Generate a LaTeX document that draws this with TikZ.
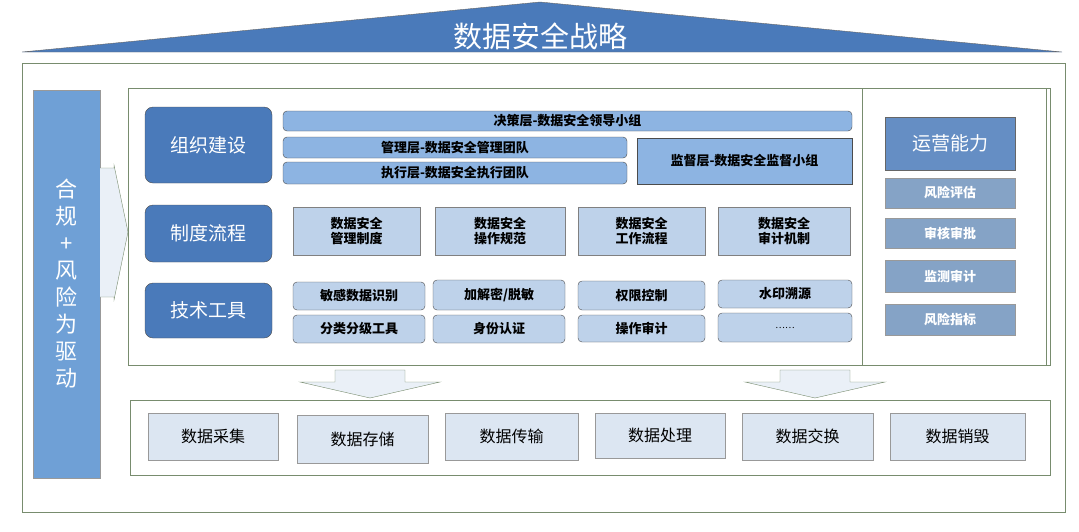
\documentclass[tikz,border=0pt]{standalone}
\usepackage{fontspec}
\setmainfont{Noto Sans CJK SC}
\usepackage{tikz}
\usetikzlibrary{shapes.geometric}
\definecolor{darkblu}{RGB}{74,122,186}
\definecolor{midblu}{RGB}{111,160,214}
\definecolor{barblu}{RGB}{141,180,226}
\definecolor{lightblu}{RGB}{190,210,234}
\definecolor{paleblu}{RGB}{220,230,242}
\definecolor{frame}{RGB}{120,140,110}
\begin{document}
\begin{tikzpicture}[x=1pt,y=-1pt,
  head/.style={draw=black!70, rounded corners=8pt, fill=darkblu, text=white, font=\fontsize{19}{19}\selectfont},
  bar/.style={draw=black!70, rounded corners=4pt, fill=barblu, font=\fontsize{13}{13}\selectfont\bfseries},
  rule/.style={draw=black!50, fill=lightblu, align=center, font=\fontsize{13}{15}\selectfont\bfseries},
  tool/.style={draw=black!70, rounded corners=4pt, fill=lightblu, font=\fontsize{13}{13}\selectfont\bfseries},
  ops/.style={draw=black!40, fill=barblu!85!black!90, text=white, font=\fontsize{13}{13}\selectfont\bfseries},
  stage/.style={draw=black!40, fill=paleblu, font=\fontsize{16}{16}\selectfont}]
\useasboundingbox (0,0) rectangle (1079,531);
% roof
\draw[fill=darkblu, draw=black!60] (22,52)--(540,2)--(1062,52)--cycle;
\node[text=white, font=\fontsize{29}{29}\selectfont] (title) at (540,36) {数据安全战略};
% frames
\draw[frame] (22,63) rectangle (1065,512);
\draw[frame] (128,88) rectangle (1050,365);
\draw[frame] (1046,88)--(1046,365);
\draw[frame] (862,88)--(862,365);
\draw[frame] (130,400) rectangle (1050,475);
% driver
\node[draw=black!40, fill=midblu, text=white, minimum width=67pt, minimum height=388pt,
  align=center, font=\fontsize{22}{27}\selectfont] (drive) at (66.5,284)
  {合\\规\\+\\风\\险\\为\\驱\\动};
\draw[frame, fill=paleblu!60] (100,168)--(114,168)--(114,165)--(128,232)--(114,300)--(114,297)--(100,297);
% rows
\node[head, minimum width=127pt, minimum height=76pt] (org) at (208.5,145) {组织建设};
\node[head, minimum width=127pt, minimum height=57pt] (proc) at (208.5,233.5) {制度流程};
\node[head, minimum width=127pt, minimum height=55pt] (tech) at (208.5,310.5) {技术工具};
\node[bar, minimum width=569pt, minimum height=20pt] (lead) at (567.5,121) {决策层-数据安全领导小组};
\node[bar, minimum width=344pt, minimum height=21pt] (mgmt) at (455,147.5) {管理层-数据安全管理团队};
\node[bar, minimum width=344pt, minimum height=22pt] (exec) at (455,173) {执行层-数据安全执行团队};
\node[bar, rounded corners=0pt, minimum width=215pt, minimum height=46pt] (sup) at (744.5,161) {监督层-数据安全监督小组};
\node[rule, minimum width=127pt, minimum height=48pt] (r1) at (356.5,231) {数据安全\\管理制度};
\node[rule, minimum width=130pt, minimum height=48pt] (r2) at (500,231) {数据安全\\操作规范};
\node[rule, minimum width=127pt, minimum height=48pt] (r3) at (641.5,231) {数据安全\\工作流程};
\node[rule, minimum width=132pt, minimum height=48pt] (r4) at (784,231) {数据安全\\审计机制};
\node[tool, minimum width=132pt, minimum height=28pt] (t1) at (359,296) {敏感数据识别};
\node[tool, minimum width=132pt, minimum height=28pt] (t2) at (359,329) {分类分级工具};
\node[tool, minimum width=132pt, minimum height=30pt] (t3) at (499,295) {加解密/脱敏};
\node[tool, minimum width=132pt, minimum height=28pt] (t4) at (499,329) {身份认证};
\node[tool, minimum width=127pt, minimum height=29pt] (t5) at (641.5,295.5) {权限控制};
\node[tool, minimum width=127pt, minimum height=27pt] (t6) at (641.5,328.5) {操作审计};
\node[tool, minimum width=134pt, minimum height=28pt] (t7) at (785,294) {水印溯源};
\node[tool, minimum width=134pt, minimum height=29pt, font=\fontsize{9}{9}\selectfont] (t8) at (785,327.5) {……};
% operations
\node[draw=black!60, fill=darkblu!85, text=white, minimum width=130pt, minimum height=53pt,
  font=\fontsize{19}{19}\selectfont] (op) at (950,143.5) {运营能力};
\node[ops, minimum width=130pt, minimum height=30pt] (o1) at (950,193) {风险评估};
\node[ops, minimum width=130pt, minimum height=30pt] (o2) at (950,233) {审核审批};
\node[ops, minimum width=130pt, minimum height=32pt] (o3) at (950,276) {监测审计};
\node[ops, minimum width=130pt, minimum height=31pt] (o4) at (950,319.5) {风险指标};
% down arrows
\draw[frame, fill=paleblu!60] (335,370)--(405,370)--(405,382)--(440,382)--(370,398)--(300,382)--(335,382)--cycle;
\draw[frame, fill=paleblu!60] (780,370)--(850,370)--(850,382)--(885,382)--(815,398)--(745,382)--(780,382)--cycle;
% lifecycle
\node[stage, minimum width=130pt, minimum height=47pt] (s1) at (213,436.5) {数据采集};
\node[stage, minimum width=131pt, minimum height=48pt] (s2) at (362.5,439) {数据存储};
\node[stage, minimum width=133pt, minimum height=47pt] (s3) at (511.5,436.5) {数据传输};
\node[stage, minimum width=130pt, minimum height=45pt] (s4) at (660,435.5) {数据处理};
\node[stage, minimum width=131pt, minimum height=47pt] (s5) at (807.5,436.5) {数据交换};
\node[stage, minimum width=135pt, minimum height=47pt] (s6) at (957.5,436.5) {数据销毁};
\end{tikzpicture}
\end{document}
